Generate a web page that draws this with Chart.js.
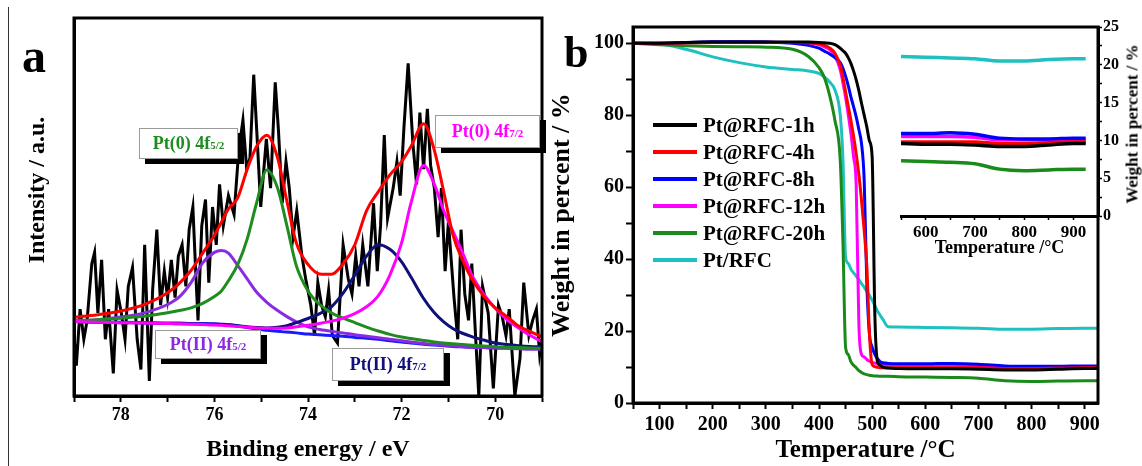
<!DOCTYPE html>
<html><head><meta charset="utf-8">
<script src="https://cdn.jsdelivr.net/npm/chart.js@4/dist/chart.umd.min.js"></script>
<style>
html,body{margin:0;padding:0;}
body{width:1142px;height:466px;background:#fff;position:relative;overflow:hidden;font-family:'Liberation Serif','Times New Roman',serif;font-weight:bold;color:#000;}
canvas{position:absolute;}
.lbl{position:absolute;white-space:nowrap;line-height:1;}
.box{position:absolute;background:#fff;border:1px solid #9a9a9a;box-shadow:6px 5px 0 #000;display:flex;align-items:center;justify-content:center;font-size:18px;white-space:nowrap;}
.box sub{font-size:11px;vertical-align:baseline;position:relative;top:1px;}
.leg{position:absolute;left:653px;height:27px;display:flex;align-items:center;font-size:21px;white-space:nowrap;}
.leg span.ln{display:inline-block;width:44px;height:4px;margin-right:6px;}
</style></head><body>
<div style="position:absolute;left:8px;top:7px;width:1px;height:459px;background:#333;"></div>
<canvas id="cA" width="560" height="466" style="left:0;top:0;"></canvas>
<canvas id="cB" width="597" height="466" style="left:545px;top:0;"></canvas>
<canvas id="cI" width="262" height="262" style="left:880px;top:0;"></canvas>
<div class="lbl" style="left:22px;top:32px;font-size:48px;">a</div>
<div class="lbl" style="left:564px;top:31px;font-size:44px;">b</div>
<div class="lbl" style="left:36px;top:190px;font-size:24px;transform:translate(-50%,-50%) rotate(-90deg);">Intensity / a.u.</div>
<div class="box" style="left:139px;top:128px;width:97px;height:29px;color:#1e8c1e;">Pt(0) 4f<sub>5/2</sub></div>
<div class="box" style="left:435px;top:115px;width:103px;height:31px;color:#ff00ff;">Pt(0) 4f<sub>7/2</sub></div>
<div class="box" style="left:155px;top:330px;width:104px;height:27px;color:#8a2be2;">Pt(II) 4f<sub>5/2</sub></div>
<div class="box" style="left:332px;top:348px;width:110px;height:31px;color:#10107a;">Pt(II) 4f<sub>7/2</sub></div>
<div id="legend"></div>
<div class="lbl" style="left:1132px;top:124px;font-size:17px;transform:translate(-50%,-50%) rotate(-90deg);">Weight in percent / %</div>
<script>
// ---------- Panel a: XPS Pt 4f ----------
const rawEnergy = [79.00,78.95,78.87,78.79,78.72,78.62,78.56,78.49,78.41,78.33,78.26,78.16,78.08,77.99,77.91,77.84,77.75,77.65,77.57,77.49,77.39,77.32,77.23,77.15,77.07,77.00,76.92,76.84,76.77,76.69,76.61,76.54,76.46,76.40,76.35,76.27,76.19,76.12,76.04,75.96,75.89,75.81,75.70,75.58,75.48,75.39,75.31,75.24,75.16,75.09,75.01,74.89,74.80,74.70,74.63,74.55,74.47,74.40,74.32,74.24,74.13,74.05,73.94,73.86,73.79,73.71,73.63,73.56,73.48,73.37,73.25,73.14,73.06,72.98,72.91,72.83,72.72,72.60,72.52,72.45,72.37,72.30,72.18,72.10,72.03,71.95,71.86,71.76,71.68,71.61,71.53,71.45,71.38,71.30,71.22,71.15,71.07,71.00,70.88,70.80,70.73,70.65,70.57,70.50,70.42,70.35,70.27,70.15,70.04,69.93,69.85,69.77,69.70,69.58,69.47,69.39,69.28,69.20,69.12,69.05,69.00];
const rawIntensity = [16,8,23,15,20,35,38,22,36,15,23,6,28,22,15,29,34,15,7,40,4,28,44,24,33,26,36,26,37,40,29,44,50,33,20,45,52,30,50,40,56,45,53,48,65,73,60,63,85,69,50,68,55,83,70,51,62,55,42,49,37,31,24,16,30,24,21,28,16,14,40,31,27,37,29,40,29,51,33,45,69,47,55,62,53,71,88,67,56,75,60,76,61,55,42,55,33,46,26,15,44,27,20,35,16,0,29,22,2,24,21,16,23,0,10,30,16,20,23,11,15];
const fitEnergy = [79,78.5,78,77.5,77,76.75,76.5,76.25,76,75.85,75.7,75.5,75.3,75.1,74.88,74.65,74.45,74.25,74,73.75,73.5,73.25,73,72.75,72.5,72.25,72,71.8,71.53,71.3,71.1,70.9,70.7,70.5,70.25,70,69.75,69.5,69.25,69];
const fitEnvelope = [20.8,21.5,22.5,24.2,27.3,29.8,33.2,37.8,42.5,46,49.5,52.5,60,66,69,63,51.5,40.5,34.8,32.3,32.2,35,40,49,54,58.5,62,66,72,65,54,42.5,36,31,26.5,23.3,21,18.5,17,15.7];
const fitPt0f52 = [20.0,20.2,20.6,21.1,22.0,22.6,23.3,24.5,26.3,27.8,30.5,34.8,41.5,51,59.8,55,45,34.5,27.8,24.2,22.0,20.6,19.4,18.2,17.2,16.3,15.6,15.2,14.7,14.3,14.0,13.8,13.6,13.4,13.2,13.0,12.9,12.8,12.7,12.6];
const fitPt0f72 = [19.7,19.5,19.4,19.3,19.2,19.1,19.0,18.9,18.8,18.7,18.6,18.4,18.2,18.0,17.9,17.9,18.0,18.3,18.7,19.2,19.8,20.6,21.8,23.6,26.5,32.0,40.5,51.0,61.0,56.0,49.0,43.5,38.0,32.0,27.0,23.2,20.2,18.0,16.0,14.4];
const fitPt2f52 = [19.7,20.2,20.9,22.0,24.2,26.2,30.0,35.2,38.0,38.5,37.8,34.5,31.0,27.5,24.8,22.6,21.0,19.6,18.3,17.6,17.1,16.7,16.2,15.8,15.4,15.0,14.6,14.3,13.9,13.6,13.4,13.2,13.0,12.9,12.8,12.7,12.6,12.5,12.4,12.4];
const fitPt2f72 = [19.7,19.5,19.4,19.3,19.2,19.1,19.1,19.0,19.0,18.9,18.8,18.6,18.3,18.1,18.0,18.2,18.6,19.4,20.5,21.8,23.6,27.2,32.0,37.0,40.0,38.8,35.5,31.5,25.8,22.0,19.6,17.8,16.6,15.7,14.8,14.0,13.6,13.3,13.1,13.0];
const fitBackground = [19.7,19.6,19.5,19.4,19.3,19.3,19.2,19.2,19.1,19.0,18.9,18.6,18.1,17.7,17.4,17.1,16.9,16.7,16.4,16.2,16.0,15.8,15.5,15.3,15.0,14.6,14.3,14.0,13.7,13.5,13.3,13.1,13.0,12.9,12.8,12.7,12.7,12.6,12.6,12.6];
const energyTicks = [78,76,74,72,70];

// ---------- Panel b: TGA ----------
const temperature = [50,100,150,200,250,300,350,380,400,410,420,430,440,445,450,455,460,465,470,475,480,485,490,495,500,505,510,515,520,530,550,600,650,700,750,800,850,900,925];
const weight1h  = [100,100,100.2,100.3,100.3,100.3,100.3,100.3,100.2,100.1,100,99.6,98.6,97.9,97.2,96,94.4,92.3,89.8,86.8,83.3,80,76.7,72.8,68.4,25,11.5,10.5,10.0,9.7,9.6,9.5,9.5,9.4,9.2,9.2,9.4,9.6,9.6];
const weight4h  = [100,100,100.1,100.2,100.2,100.2,100.2,100.1,99.8,99.4,98.7,97.2,93.8,90.5,86.5,82.5,78.6,74.2,69.3,63.5,56.3,48,38,19,10.7,10.1,9.9,9.8,9.8,9.8,9.8,9.8,9.8,9.8,9.6,9.6,9.7,9.8,9.8];
const weight8h  = [100,100,100.2,100.4,100.4,100.3,100,99.4,98.6,97.8,97.0,96.0,94.6,93.0,90.8,88.2,85.1,82.4,79.5,76.0,72.1,62,33,19,15.5,13.5,12.3,11.5,11.2,11.0,10.9,10.9,11.0,10.8,10.3,10.2,10.2,10.3,10.3];
const weight12h = [100,100,100.1,100.3,100.4,100.3,100.2,100,99.6,99.0,98.2,96.4,92.6,89,85,80.2,75,68.5,60.5,22,13.5,12.8,12.1,11.6,11.3,11.1,10.9,10.8,10.7,10.6,10.5,10.5,10.5,10.4,10.1,10.1,10.1,10.1,10.1];
const weight20h = [100,99.6,99.3,99.1,99.0,98.9,98.3,96.3,93.2,90.5,85.5,78.5,67.5,45,15.5,13.5,11.5,10.5,9.8,9.0,8.5,8.1,7.9,7.7,7.6,7.5,7.5,7.4,7.4,7.4,7.3,7.2,7.1,6.9,6.2,6.0,6.1,6.2,6.2];
const weightPtRFC = [100,99.8,98.3,96.2,94.6,93.4,92.7,92.3,91.6,90.6,89.2,87.0,80,68,40.5,38.8,37.2,36.2,35.3,34.3,33.2,32.2,31,29.9,28.6,27.1,25.6,24.4,23.3,21.2,21.1,21.0,20.9,20.8,20.5,20.5,20.7,20.8,20.8];
const sampleNames = ['Pt@RFC-1h','Pt@RFC-4h','Pt@RFC-8h','Pt@RFC-12h','Pt@RFC-20h','Pt/RFC'];
const sampleColors = ['#000000','#ff0000','#0000ff','#ff00ff','#1a8a1a','#1fc0c0'];
const temperatureTicks = [100,200,300,400,500,600,700,800,900];
const weightTicks = [0,20,40,60,80,100];
const insetTemperatureTicks = [600,700,800,900];
const insetWeightTicks = [0,5,10,15,20,25];

// ---------- helpers ----------
const FAM = "'Liberation Serif','Times New Roman',serif";
const f = (size) => ({family: FAM, size: size, weight: 'bold'});
const pts = (xs, ys) => xs.map((x, i) => ({x: x, y: ys[i]}));
const near = (arr, v) => arr.some(t => Math.abs(t - v) < 1e-6);
const framePlugin = {
  id: 'frame',
  afterDraw(chart) {
    const {ctx, chartArea: a} = chart;
    ctx.save(); ctx.strokeStyle = '#000'; ctx.lineWidth = 3;
    ctx.strokeRect(a.left, a.top, a.right - a.left, a.bottom - a.top);
    ctx.restore();
  }
};
const tickGrid = (len, w) => ({display: true, drawOnChartArea: false, drawTicks: true, tickLength: len, tickWidth: w, tickColor: '#000'});
const border = (w) => ({display: true, width: w, color: '#000'});

// ---------- Chart a ----------
const fitLine = (ys, color) => ({data: pts(fitEnergy, ys), borderColor: color, borderWidth: 3, pointRadius: 0, cubicInterpolationMode: 'monotone', fill: false});
new Chart(document.getElementById('cA'), {
  type: 'line',
  data: {datasets: [
    fitLine(fitEnvelope, '#ff0000'),
    fitLine(fitPt0f72, '#ff00ff'),
    fitLine(fitPt0f52, '#1e8c1e'),
    fitLine(fitPt2f72, '#10107a'),
    fitLine(fitPt2f52, '#8a2be2'),
    fitLine(fitBackground, '#1a1aff'),
    {data: pts(rawEnergy, rawIntensity), borderColor: '#000', borderWidth: 3, pointRadius: 0, tension: 0, fill: false}
  ]},
  options: {
    responsive: false, animation: false, events: [],
    layout: {padding: {left: 0, top: 18, right: 18, bottom: 0}},
    plugins: {legend: {display: false}, tooltip: {enabled: false}},
    scales: {
      x: {type: 'linear', min: 69, max: 79, reverse: true,
          afterFit: s => { s.height = 70; },
          ticks: {stepSize: 1, autoSkip: false, includeBounds: false, maxRotation: 0, padding: 3, color: '#000', font: f(18),
                  callback: v => near(energyTicks, v) ? String(Math.round(v)) : ''},
          grid: tickGrid(6, 2), border: border(3),
          title: {display: true, text: 'Binding energy / eV', color: '#000', font: f(24), padding: {top: 0, bottom: 2}}},
      y: {type: 'linear', min: 0, max: 100,
          afterFit: s => { s.width = 74; },
          ticks: {display: false}, grid: {display: false}, border: border(3),
          title: {display: false}}
    }
  },
  plugins: [framePlugin]
});

// ---------- Chart b (main) ----------
const series = [weight1h, weight4h, weight8h, weight12h, weight20h, weightPtRFC];
new Chart(document.getElementById('cB'), {
  type: 'line',
  data: {datasets: series.map((ys, i) => ({label: sampleNames[i], data: pts(temperature, ys), borderColor: sampleColors[i], borderWidth: 3, pointRadius: 0, cubicInterpolationMode: 'monotone', fill: false}))},
  options: {
    responsive: false, animation: false, events: [],
    layout: {padding: {left: 0, top: 27, right: 44, bottom: 0}},
    plugins: {legend: {display: false}, tooltip: {enabled: false}},
    scales: {
      x: {type: 'linear', min: 50, max: 925,
          afterFit: s => { s.height = 63; },
          ticks: {stepSize: 50, autoSkip: false, includeBounds: false, maxRotation: 0, padding: 4, color: '#000', font: f(20),
                  callback: v => near(temperatureTicks, v) ? String(Math.round(v)) : ''},
          grid: tickGrid(6, 2), border: border(3),
          title: {display: true, text: 'Temperature /°C', color: '#000', font: f(25), padding: {top: 0, bottom: 0}}},
      y: {type: 'linear', min: 0, max: 104.5,
          afterFit: s => { s.width = 88; },
          ticks: {stepSize: 10, autoSkip: false, includeBounds: false, padding: 2, color: '#000', font: f(20),
                  callback: v => near(weightTicks, v) ? String(Math.round(v)) : ''},
          grid: tickGrid(7, 2), border: border(3),
          title: {display: true, text: 'Weight in percent / %', color: '#000', font: f(26), padding: {top: 2, bottom: 0}}}
    }
  },
  plugins: [framePlugin]
});

// ---------- Inset ----------
const inIdx = temperature.map((t, i) => i).filter(i => temperature[i] >= 550);
new Chart(document.getElementById('cI'), {
  type: 'line',
  data: {datasets: series.map((ys, i) => ({label: sampleNames[i], data: inIdx.map(k => ({x: temperature[k], y: ys[k]})), borderColor: sampleColors[i], borderWidth: 3.5, pointRadius: 0, cubicInterpolationMode: 'monotone', fill: false}))},
  options: {
    responsive: false, animation: false, events: [],
    layout: {padding: {left: 21, top: 27, right: 0, bottom: 0}},
    plugins: {legend: {display: false}, tooltip: {enabled: false}},
    scales: {
      x: {type: 'linear', min: 550, max: 950,
          afterFit: s => { s.height = 46; },
          ticks: {stepSize: 50, autoSkip: false, maxRotation: 0, padding: 2, color: '#000', font: f(17),
                  callback: v => near(insetTemperatureTicks, v) ? String(Math.round(v)) : ''},
          grid: tickGrid(4, 1.5), border: border(3),
          title: {display: true, text: 'Temperature /°C', color: '#000', font: f(18), padding: {top: 0, bottom: 3}}},
      y: {type: 'linear', position: 'right', min: 0, max: 25,
          afterFit: s => { s.width = 44; },
          ticks: {stepSize: 2.5, autoSkip: false, padding: 1, color: '#000', font: f(16),
                  callback: v => near(insetWeightTicks, v) ? String(Math.round(v)) : ''},
          grid: tickGrid(4, 1.5), border: border(3),
          title: {display: false}}
    }
  }
});

// ---------- Legend (HTML, from series names/colors) ----------
const legendEl = document.getElementById('legend');
sampleNames.forEach((name, i) => {
  const row = document.createElement('div');
  row.className = 'leg';
  row.style.top = (125 - 13.5 + i * 27) + 'px';
  row.innerHTML = '<span class="ln" style="background:' + sampleColors[i] + '"></span>' + name;
  legendEl.appendChild(row);
});
</script>
</body></html>
